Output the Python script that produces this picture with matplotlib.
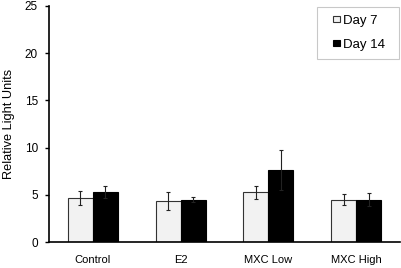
import numpy as np
import matplotlib
matplotlib.use("Agg")
import matplotlib.pyplot as plt
from matplotlib.patches import Rectangle
from matplotlib.legend_handler import HandlerPatch

plt.rcParams['font.family'] = ['Liberation Sans', 'DejaVu Sans']

groups = ['Control', 'E2', 'MXC Low', 'MXC High']
day7 = [4.7, 4.3, 5.25, 4.5]
day7_err = [0.75, 0.95, 0.7, 0.6]
day14 = [5.3, 4.5, 7.6, 4.5]
day14_err = [0.6, 0.28, 2.1, 0.7]


def small_square(legend, orig_handle, xdescent, ydescent, width, height, fontsize):
    # little square sitting at the right end of the handle box
    s = 0.5 * fontsize
    return Rectangle((-xdescent + width - s, -ydescent + (height - s) / 2), s, s)


fig = plt.figure(figsize=(4.01, 2.68), dpi=100)
ax = fig.add_axes([0.122, 0.097, 0.876, 0.881])

x = np.arange(len(groups))
w = 0.285
ekw = dict(elinewidth=0.8, capsize=1.5, capthick=0.8, ecolor='#222222')
b1 = ax.bar(x - w / 2, day7, w, yerr=day7_err, color='#f2f2f2', edgecolor='#333333',
            linewidth=0.8, error_kw=ekw)
b2 = ax.bar(x + w / 2, day14, w, yerr=day14_err, color='black', edgecolor='black',
            linewidth=0.8, error_kw=ekw)

ax.set_xlim(-0.5, 3.5)
ax.set_ylim(0, 25)
ax.set_yticks([0, 5, 10, 15, 20, 25])
ax.set_xticks(x)
ax.set_xticklabels(groups, fontsize=8)
ax.tick_params(axis='x', length=0, pad=9)
ax.tick_params(axis='y', labelsize=8.5, length=3, width=1, pad=5, direction='out')
ax.set_ylabel('Relative Light Units', fontsize=9.2, labelpad=7)
ax.spines['top'].set_visible(False)
ax.spines['right'].set_visible(False)
ax.spines['left'].set_linewidth(1.2)
ax.spines['bottom'].set_linewidth(1.2)

h7 = Rectangle((0, 0), 1, 1, facecolor='#f2f2f2', edgecolor='#333333', linewidth=0.8)
h14 = Rectangle((0, 0), 1, 1, facecolor='black', edgecolor='black', linewidth=0.8)
leg = ax.legend([h7, h14], ['Day 7', 'Day 14'],
                loc='upper right', bbox_to_anchor=(0.763, 0.771, 0.233, 0.225),
                mode='expand', borderaxespad=0, fontsize=9.5,
                handlelength=1.15, handleheight=0.6, handletextpad=0.25,
                borderpad=0.6, labelspacing=0.9, fancybox=False,
                handler_map={Rectangle: HandlerPatch(patch_func=small_square)})
leg.get_frame().set_edgecolor('#bbbbbb')
leg.get_frame().set_linewidth(0.8)

fig.savefig('out.png', dpi=100)
